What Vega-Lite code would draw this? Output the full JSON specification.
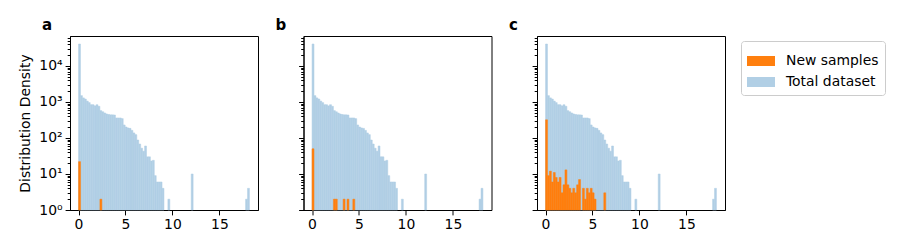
{
  "$schema": "https://vega.github.io/schema/vega-lite/v6.json",
  "datasets": {
    "total": [
      {"series": "Total dataset", "x0": 0, "x1": 0.2068, "count": 40800},
      {"series": "Total dataset", "x0": 0.2068, "x1": 0.4136, "count": 1500},
      {"series": "Total dataset", "x0": 0.4136, "x1": 0.6205, "count": 1300},
      {"series": "Total dataset", "x0": 0.6205, "x1": 0.8273, "count": 1210},
      {"series": "Total dataset", "x0": 0.8273, "x1": 1.0341, "count": 1060},
      {"series": "Total dataset", "x0": 1.0341, "x1": 1.2409, "count": 960},
      {"series": "Total dataset", "x0": 1.2409, "x1": 1.4477, "count": 840},
      {"series": "Total dataset", "x0": 1.4477, "x1": 1.6545, "count": 840},
      {"series": "Total dataset", "x0": 1.6545, "x1": 1.8614, "count": 780},
      {"series": "Total dataset", "x0": 1.8614, "x1": 2.0682, "count": 840},
      {"series": "Total dataset", "x0": 2.0682, "x1": 2.275, "count": 760},
      {"series": "Total dataset", "x0": 2.275, "x1": 2.4818, "count": 575},
      {"series": "Total dataset", "x0": 2.4818, "x1": 2.6886, "count": 535},
      {"series": "Total dataset", "x0": 2.6886, "x1": 2.8955, "count": 495},
      {"series": "Total dataset", "x0": 2.8955, "x1": 3.1023, "count": 465},
      {"series": "Total dataset", "x0": 3.1023, "x1": 3.3091, "count": 450},
      {"series": "Total dataset", "x0": 3.3091, "x1": 3.5159, "count": 440},
      {"series": "Total dataset", "x0": 3.5159, "x1": 3.7227, "count": 440},
      {"series": "Total dataset", "x0": 3.7227, "x1": 3.9295, "count": 435},
      {"series": "Total dataset", "x0": 3.9295, "x1": 4.1364, "count": 360},
      {"series": "Total dataset", "x0": 4.1364, "x1": 4.3432, "count": 360},
      {"series": "Total dataset", "x0": 4.3432, "x1": 4.55, "count": 360},
      {"series": "Total dataset", "x0": 4.55, "x1": 4.7568, "count": 345},
      {"series": "Total dataset", "x0": 4.7568, "x1": 4.9636, "count": 230},
      {"series": "Total dataset", "x0": 4.9636, "x1": 5.1705, "count": 202},
      {"series": "Total dataset", "x0": 5.1705, "x1": 5.3773, "count": 190},
      {"series": "Total dataset", "x0": 5.3773, "x1": 5.5841, "count": 185},
      {"series": "Total dataset", "x0": 5.5841, "x1": 5.7909, "count": 163},
      {"series": "Total dataset", "x0": 5.7909, "x1": 5.9977, "count": 138},
      {"series": "Total dataset", "x0": 5.9977, "x1": 6.2045, "count": 124},
      {"series": "Total dataset", "x0": 6.2045, "x1": 6.4114, "count": 88},
      {"series": "Total dataset", "x0": 6.4114, "x1": 6.6182, "count": 68},
      {"series": "Total dataset", "x0": 6.6182, "x1": 6.825, "count": 52},
      {"series": "Total dataset", "x0": 6.825, "x1": 7.0318, "count": 43},
      {"series": "Total dataset", "x0": 7.0318, "x1": 7.2386, "count": 60},
      {"series": "Total dataset", "x0": 7.2386, "x1": 7.4455, "count": 30},
      {"series": "Total dataset", "x0": 7.4455, "x1": 7.6523, "count": 30},
      {"series": "Total dataset", "x0": 7.6523, "x1": 7.8591, "count": 23},
      {"series": "Total dataset", "x0": 7.8591, "x1": 8.0659, "count": 24},
      {"series": "Total dataset", "x0": 8.0659, "x1": 8.2727, "count": 9},
      {"series": "Total dataset", "x0": 8.2727, "x1": 8.4795, "count": 6},
      {"series": "Total dataset", "x0": 8.4795, "x1": 8.6864, "count": 6},
      {"series": "Total dataset", "x0": 8.6864, "x1": 8.8932, "count": 6},
      {"series": "Total dataset", "x0": 8.8932, "x1": 9.1, "count": 4},
      {"series": "Total dataset", "x0": 9.5136, "x1": 9.7205, "count": 2},
      {"series": "Total dataset", "x0": 11.9955, "x1": 12.2023, "count": 10},
      {"series": "Total dataset", "x0": 17.7864, "x1": 17.9932, "count": 2},
      {"series": "Total dataset", "x0": 17.9932, "x1": 18.2, "count": 4}
    ],
    "new": [
      {"panel": "a", "series": "New samples", "x0": 0, "x1": 0.2068, "count": 22},
      {"panel": "a", "series": "New samples", "x0": 2.275, "x1": 2.4818, "count": 2},
      {"panel": "b", "series": "New samples", "x0": 0, "x1": 0.2068, "count": 50},
      {"panel": "b", "series": "New samples", "x0": 2.275, "x1": 2.4818, "count": 2},
      {"panel": "b", "series": "New samples", "x0": 2.4818, "x1": 2.6886, "count": 2},
      {"panel": "b", "series": "New samples", "x0": 3.3091, "x1": 3.5159, "count": 2},
      {"panel": "b", "series": "New samples", "x0": 3.7227, "x1": 3.9295, "count": 2},
      {"panel": "b", "series": "New samples", "x0": 4.3432, "x1": 4.55, "count": 2},
      {"panel": "c", "series": "New samples", "x0": 0, "x1": 0.2068, "count": 320},
      {"panel": "c", "series": "New samples", "x0": 0.2068, "x1": 0.4136, "count": 9},
      {"panel": "c", "series": "New samples", "x0": 0.4136, "x1": 0.6205, "count": 12},
      {"panel": "c", "series": "New samples", "x0": 0.6205, "x1": 0.8273, "count": 6},
      {"panel": "c", "series": "New samples", "x0": 0.8273, "x1": 1.0341, "count": 11},
      {"panel": "c", "series": "New samples", "x0": 1.0341, "x1": 1.2409, "count": 8},
      {"panel": "c", "series": "New samples", "x0": 1.2409, "x1": 1.4477, "count": 6},
      {"panel": "c", "series": "New samples", "x0": 1.4477, "x1": 1.6545, "count": 8},
      {"panel": "c", "series": "New samples", "x0": 1.6545, "x1": 1.8614, "count": 3},
      {"panel": "c", "series": "New samples", "x0": 1.8614, "x1": 2.0682, "count": 5},
      {"panel": "c", "series": "New samples", "x0": 2.0682, "x1": 2.275, "count": 13},
      {"panel": "c", "series": "New samples", "x0": 2.275, "x1": 2.4818, "count": 5},
      {"panel": "c", "series": "New samples", "x0": 2.4818, "x1": 2.6886, "count": 4},
      {"panel": "c", "series": "New samples", "x0": 2.6886, "x1": 2.8955, "count": 3},
      {"panel": "c", "series": "New samples", "x0": 2.8955, "x1": 3.1023, "count": 4},
      {"panel": "c", "series": "New samples", "x0": 3.1023, "x1": 3.3091, "count": 3},
      {"panel": "c", "series": "New samples", "x0": 3.3091, "x1": 3.5159, "count": 5},
      {"panel": "c", "series": "New samples", "x0": 3.5159, "x1": 3.7227, "count": 7},
      {"panel": "c", "series": "New samples", "x0": 3.9295, "x1": 4.1364, "count": 4},
      {"panel": "c", "series": "New samples", "x0": 4.1364, "x1": 4.3432, "count": 2},
      {"panel": "c", "series": "New samples", "x0": 4.3432, "x1": 4.55, "count": 4},
      {"panel": "c", "series": "New samples", "x0": 4.55, "x1": 4.7568, "count": 3},
      {"panel": "c", "series": "New samples", "x0": 4.7568, "x1": 4.9636, "count": 4},
      {"panel": "c", "series": "New samples", "x0": 4.9636, "x1": 5.1705, "count": 3},
      {"panel": "c", "series": "New samples", "x0": 5.1705, "x1": 5.3773, "count": 2},
      {"panel": "c", "series": "New samples", "x0": 6.2045, "x1": 6.4114, "count": 3}
    ]
  },
  "padding": {"left": 18, "top": 17, "right": 5, "bottom": 5},
  "spacing": 15.5,
  "hconcat": [
    {
      "width": 188, "height": 174,
      "title": {"text": "a", "anchor": "start", "frame": "group", "dx": -28, "fontSize": 15, "fontWeight": "bold", "offset": 3},
      "layer": [
        {
          "data": {"name": "total"},
          "mark": {"type": "bar", "stroke": "#b1cfe5", "strokeWidth": 0.5},
          "encoding": {
            "x": {"field": "x0", "type": "quantitative", "scale": {"domain": [-0.91, 19.11], "nice": false, "zero": false}, "axis": {"values": [0, 5, 10, 15], "title": null}},
            "x2": {"field": "x1"},
            "y": {"field": "count", "type": "quantitative", "scale": {"type": "log", "domain": [1, 68000], "nice": false}, "axis": {"orient": "left", "values": [1, 10, 100, 1000, 10000], "labelExpr": "datum.value == 1 ? '10⁰' : datum.value == 10 ? '10¹' : datum.value == 100 ? '10²' : datum.value == 1000 ? '10³' : '10⁴'", "title": "Distribution Density"}},
            "y2": {"datum": 1},
            "color": {"field": "series", "type": "nominal", "scale": {"domain": ["New samples", "Total dataset"], "range": ["#ff7f0e", "#b1cfe5"]}, "legend": {"title": null}}
          }
        },
        {
          "data": {"name": "new"},
          "transform": [{"filter": "datum.panel === 'a'"}],
          "mark": {"type": "bar", "stroke": "#ff7f0e", "strokeWidth": 0.5},
          "encoding": {
            "x": {"field": "x0", "type": "quantitative", "axis": {"values": [0, 5, 10, 15], "title": null}},
            "x2": {"field": "x1"},
            "y": {"field": "count", "type": "quantitative", "axis": {"orient": "left", "values": [2,3,4,5,6,7,8,9,20,30,40,50,60,70,80,90,200,300,400,500,600,700,800,900,2000,3000,4000,5000,6000,7000,8000,9000,20000,30000,40000,50000,60000], "labels": false, "tickSize": 2.8, "domain": false, "title": null}},
            "y2": {"datum": 1},
            "color": {"field": "series", "type": "nominal"}
          }
        }
      ],
      "resolve": {"axis": {"y": "independent"}}
    },
    {
      "width": 188, "height": 174,
      "title": {"text": "b", "anchor": "start", "frame": "group", "dx": -28, "fontSize": 15, "fontWeight": "bold", "offset": 3},
      "layer": [
        {
          "data": {"name": "total"},
          "mark": {"type": "bar", "stroke": "#b1cfe5", "strokeWidth": 0.5},
          "encoding": {
            "x": {"field": "x0", "type": "quantitative", "scale": {"domain": [-0.91, 19.11], "nice": false, "zero": false}, "axis": {"values": [0, 5, 10, 15], "title": null}},
            "x2": {"field": "x1"},
            "y": {"field": "count", "type": "quantitative", "scale": {"type": "log", "domain": [1, 68000], "nice": false}, "axis": {"orient": "left", "values": [1, 10, 100, 1000, 10000], "labels": false, "title": null}},
            "y2": {"datum": 1},
            "color": {"field": "series", "type": "nominal", "scale": {"domain": ["New samples", "Total dataset"], "range": ["#ff7f0e", "#b1cfe5"]}, "legend": {"title": null}}
          }
        },
        {
          "data": {"name": "new"},
          "transform": [{"filter": "datum.panel === 'b'"}],
          "mark": {"type": "bar", "stroke": "#ff7f0e", "strokeWidth": 0.5},
          "encoding": {
            "x": {"field": "x0", "type": "quantitative", "axis": {"values": [0, 5, 10, 15], "title": null}},
            "x2": {"field": "x1"},
            "y": {"field": "count", "type": "quantitative", "axis": {"orient": "left", "values": [2,3,4,5,6,7,8,9,20,30,40,50,60,70,80,90,200,300,400,500,600,700,800,900,2000,3000,4000,5000,6000,7000,8000,9000,20000,30000,40000,50000,60000], "labels": false, "tickSize": 2.8, "domain": false, "title": null}},
            "y2": {"datum": 1},
            "color": {"field": "series", "type": "nominal"}
          }
        }
      ],
      "resolve": {"axis": {"y": "independent"}}
    },
    {
      "width": 188, "height": 174,
      "title": {"text": "c", "anchor": "start", "frame": "group", "dx": -28, "fontSize": 15, "fontWeight": "bold", "offset": 3},
      "layer": [
        {
          "data": {"name": "total"},
          "mark": {"type": "bar", "stroke": "#b1cfe5", "strokeWidth": 0.5},
          "encoding": {
            "x": {"field": "x0", "type": "quantitative", "scale": {"domain": [-0.91, 19.11], "nice": false, "zero": false}, "axis": {"values": [0, 5, 10, 15], "title": null}},
            "x2": {"field": "x1"},
            "y": {"field": "count", "type": "quantitative", "scale": {"type": "log", "domain": [1, 68000], "nice": false}, "axis": {"orient": "left", "values": [1, 10, 100, 1000, 10000], "labels": false, "title": null}},
            "y2": {"datum": 1},
            "color": {"field": "series", "type": "nominal", "scale": {"domain": ["New samples", "Total dataset"], "range": ["#ff7f0e", "#b1cfe5"]}, "legend": {"title": null}}
          }
        },
        {
          "data": {"name": "new"},
          "transform": [{"filter": "datum.panel === 'c'"}],
          "mark": {"type": "bar", "stroke": "#ff7f0e", "strokeWidth": 0.5},
          "encoding": {
            "x": {"field": "x0", "type": "quantitative", "axis": {"values": [0, 5, 10, 15], "title": null}},
            "x2": {"field": "x1"},
            "y": {"field": "count", "type": "quantitative", "axis": {"orient": "left", "values": [2,3,4,5,6,7,8,9,20,30,40,50,60,70,80,90,200,300,400,500,600,700,800,900,2000,3000,4000,5000,6000,7000,8000,9000,20000,30000,40000,50000,60000], "labels": false, "tickSize": 2.8, "domain": false, "title": null}},
            "y2": {"datum": 1},
            "color": {"field": "series", "type": "nominal"}
          }
        }
      ],
      "resolve": {"axis": {"y": "independent"}}
    }
  ],
  "config": {
    "font": "DejaVu Sans",
    "view": {"stroke": "black", "strokeWidth": 1},
    "axis": {
      "domainColor": "black", "domainWidth": 1, "tickColor": "black", "tickWidth": 1, "tickSize": 4.9,
      "labelColor": "black", "labelFontSize": 13.9, "labelPadding": 3, "labelFont": "DejaVu Sans",
      "titleColor": "black", "titleFontSize": 13.9, "titleFontWeight": "normal", "titleFont": "DejaVu Sans", "titlePadding": 6,
      "grid": false
    },
    "legend": {
      "orient": "none", "legendX": 671, "legendY": 5,
      "symbolType": "M-1,-0.357H1V0.357H-1Z", "symbolSize": 784, "symbolStrokeWidth": 0,
      "labelFontSize": 13.9, "labelFont": "DejaVu Sans", "labelColor": "black", "labelOffset": 11,
      "strokeColor": "#cccccc", "fillColor": "white", "padding": 6, "cornerRadius": 3, "rowPadding": 0
    }
  }
}
